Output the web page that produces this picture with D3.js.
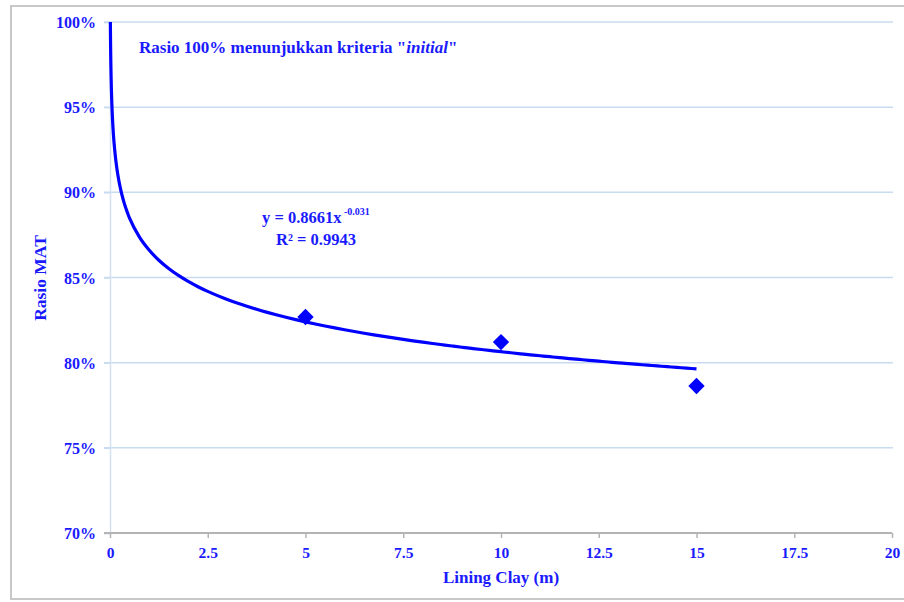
<!DOCTYPE html>
<html>
<head>
<meta charset="utf-8">
<script src="https://cdn.jsdelivr.net/npm/d3@7"></script>
<style>
  html, body { margin: 0; padding: 0; background: #fff; }
  svg { display: block; }
  text { font-family: "Liberation Serif", "Times New Roman", serif; font-weight: bold; fill: #1a1aff; }
</style>
</head>
<body>
<svg id="chart" width="904" height="602"></svg>
<script>
// ---- data ----
const liningClay = [5, 10, 15];                  // x (m)
const rasioMAT   = [0.8268, 0.8121, 0.7863];     // y (ratio)
const xTicks = [0, 2.5, 5, 7.5, 10, 12.5, 15, 17.5, 20];
const yTicks = [0.70, 0.75, 0.80, 0.85, 0.90, 0.95, 1.00];
// power trendline as displayed on the chart: y = a * x^b
const trendA = 0.8661;
const trendB = -0.031;
const trendXStart = 0.0097;   // where the trendline reaches 100%
const trendXEnd = 15;

// ---- layout ----
const svg = d3.select("#chart");
const blue = "#0000ff";
const x = d3.scaleLinear().domain([0, 20]).range([110, 892]);
const y = d3.scaleLinear().domain([0.70, 1.00]).range([533, 22]);

// outer frame
svg.append("rect").attr("x", 11).attr("y", 6).attr("width", 910).attr("height", 593)
  .attr("fill", "none").attr("stroke", "#c8c8c8").attr("stroke-width", 2);

// gridlines
svg.append("g").selectAll("line").data(yTicks.filter(d => d > 0.70)).join("line")
  .attr("x1", 104).attr("x2", 893)
  .attr("y1", d => y(d)).attr("y2", d => y(d))
  .attr("stroke", "#c9dbf0").attr("stroke-width", 1.5);

// y axis
const yAxis = d3.axisLeft(y).tickValues(yTicks).tickFormat(d3.format(".0%")).tickSize(6).tickPadding(8);
const gy = svg.append("g").attr("transform", "translate(110,0)").call(yAxis);
gy.select(".domain").attr("stroke", "#d3e1f1").attr("stroke-width", 1.5);
gy.selectAll(".tick line").attr("stroke", "#c9dbf0").attr("stroke-width", 1.5);
gy.selectAll(".tick text").attr("font-size", 16).attr("fill", "#1a1aff")
  .attr("font-family", "Liberation Serif, serif").attr("font-weight", "bold").attr("dy", "0.35em");

// x axis
const xAxis = d3.axisBottom(x).tickValues(xTicks).tickFormat(d => d).tickSize(5).tickSizeOuter(0).tickPadding(6);
const gx = svg.append("g").attr("transform", "translate(0,533)").call(xAxis);
gx.select(".domain").attr("stroke", "#b4b4b4").attr("stroke-width", 2).attr("d", "M104,0H892");
gx.selectAll(".tick line").attr("stroke", "#b4b4b4").attr("stroke-width", 1.5);
gx.selectAll(".tick text").attr("font-size", 15.5).attr("fill", "#1a1aff")
  .attr("font-family", "Liberation Serif, serif").attr("font-weight", "bold").attr("dy", "0.9em");

// axis titles
svg.append("text").attr("x", 501).attr("y", 583).attr("text-anchor", "middle")
  .attr("font-size", 17).text("Lining Clay (m)");
svg.append("text").attr("transform", "translate(46,278) rotate(-90)").attr("text-anchor", "middle")
  .attr("font-size", 17.5).text("Rasio MAT");

// trendline
const trendXs = [];
{
  const lo = Math.log(trendXStart), hi = Math.log(0.5);
  for (let i = 0; i <= 60; i++) trendXs.push(Math.exp(lo + (hi - lo) * i / 60));
  for (let i = 1; i <= 58; i++) trendXs.push(0.5 + (trendXEnd - 0.5) * i / 58);
}
const line = d3.line().x(d => x(d)).y(d => y(trendA * Math.pow(d, trendB))).curve(d3.curveMonotoneX);
svg.append("path").datum(trendXs).attr("d", line)
  .attr("fill", "none").attr("stroke", blue).attr("stroke-width", 3.2);

// markers
svg.append("g").selectAll("path").data(liningClay.map((d, i) => [d, rasioMAT[i]])).join("path")
  .attr("d", d3.symbol().type(d3.symbolDiamond2).size(170))
  .attr("transform", d => `translate(${x(d[0])},${y(d[1])})`)
  .attr("fill", blue);

// annotation
const ann = svg.append("text").attr("x", 139).attr("y", 53).attr("font-size", 17);
ann.append("tspan").text("Rasio 100% menunjukkan kriteria \"");
ann.append("tspan").attr("font-style", "italic").text("initial");
ann.append("tspan").text("\"");

// equation
const eq = svg.append("text").attr("x", 262).attr("y", 223).attr("font-size", 16.5);
eq.append("tspan").text("y = 0.8661x");
eq.append("tspan").attr("font-size", 10).attr("dy", -8).text(" -0.031");
svg.append("text").attr("x", 276).attr("y", 245).attr("font-size", 16.5).text("R² = 0.9943");
</script>
</body>
</html>
